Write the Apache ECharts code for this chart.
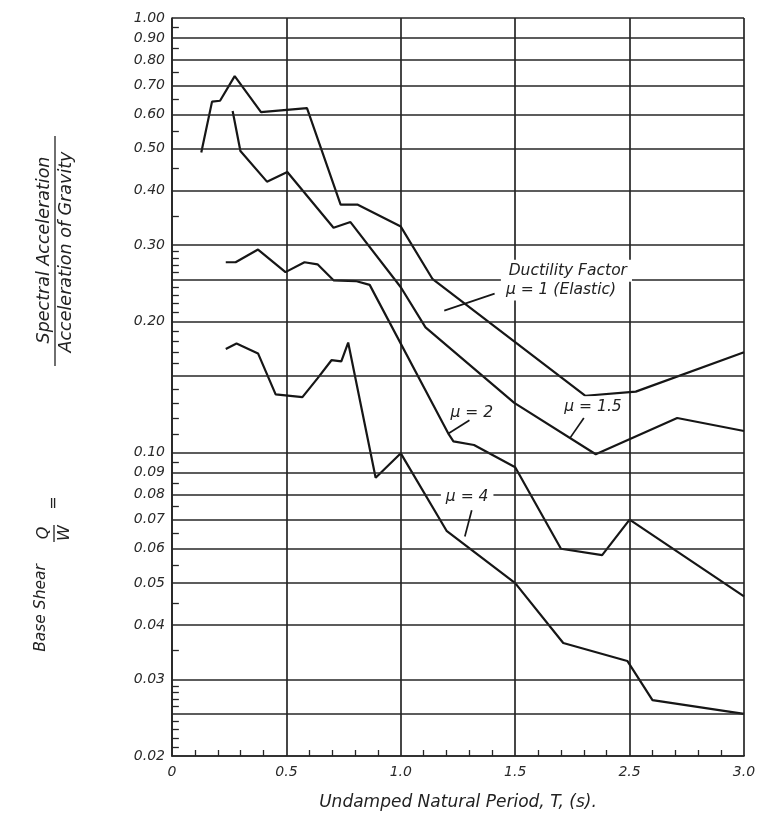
<!DOCTYPE html>
<html><head><meta charset="utf-8">
<script src="https://cdn.jsdelivr.net/npm/echarts@6/dist/echarts.min.js"></script>
<style>html,body{margin:0;padding:0;background:#fff}#c{width:759px;height:821px}</style>
</head><body><div id="c"></div>
<script>
// ---- data ----
const xTickLabels = ['0', '0.5', '1.0', '1.5', '2.5', '3.0'];
const yLabelValues = [0.02, 0.03, 0.04, 0.05, 0.06, 0.07, 0.08, 0.09, 0.10, 0.20, 0.30, 0.40, 0.50, 0.60, 0.70, 0.80, 0.90, 1.00];
const yGridValues = [0.02, 0.025, 0.03, 0.04, 0.05, 0.06, 0.07, 0.08, 0.09, 0.10, 0.15, 0.20, 0.25, 0.30, 0.40, 0.50, 0.60, 0.70, 0.80, 0.90, 1.00];
const yMinorTicks = [0.021, 0.022, 0.023, 0.024, 0.026, 0.027, 0.028, 0.029, 0.035, 0.045, 0.055, 0.065, 0.075, 0.085, 0.095,
  0.11, 0.12, 0.13, 0.14, 0.16, 0.17, 0.18, 0.19, 0.21, 0.22, 0.23, 0.24, 0.26, 0.27, 0.28, 0.29, 0.35, 0.45, 0.55, 0.65, 0.75, 0.85, 0.95];

const mu1 = [[0.128, 0.49], [0.175, 0.642], [0.21, 0.645], [0.274, 0.735], [0.389, 0.607], [0.59, 0.62],
  [0.737, 0.372], [0.81, 0.372], [1.0, 0.331], [1.138, 0.251], [1.807, 0.135], [2.027, 0.138], [2.5, 0.17]];
const mu15 = [[0.265, 0.611], [0.299, 0.494], [0.415, 0.42], [0.504, 0.442], [0.706, 0.329], [0.78, 0.339],
  [1.0, 0.240], [1.108, 0.194], [1.496, 0.130], [1.852, 0.099], [2.208, 0.120], [2.5, 0.112]];
const mu2 = [[0.235, 0.274], [0.278, 0.274], [0.376, 0.293], [0.496, 0.260], [0.579, 0.274], [0.636, 0.271],
  [0.706, 0.249], [0.803, 0.248], [0.864, 0.243], [1.21, 0.110], [1.23, 0.106], [1.32, 0.104], [1.5, 0.0924],
  [1.70, 0.060], [1.88, 0.058], [2.0, 0.070], [2.5, 0.0466]];
const mu4 = [[0.235, 0.173], [0.282, 0.178], [0.376, 0.169], [0.453, 0.136], [0.57, 0.134], [0.636, 0.148],
  [0.697, 0.163], [0.74, 0.162], [0.77, 0.179], [0.89, 0.0874], [1.0, 0.0995], [1.2, 0.066], [1.5, 0.050],
  [1.71, 0.0364], [1.99, 0.0331], [2.1, 0.0269], [2.5, 0.025]];

const noteTexts = ['Ductility Factor', 'μ = 1 (Elastic)', 'μ = 2', 'μ = 1.5', 'μ = 4'];
const noteAnchors = [[1.73, 0.262], [1.70, 0.237], [1.31, 0.123], [1.84, 0.127], [1.29, 0.0791]];
const pointerLines = [
  [[1.41, 0.232], [1.19, 0.212]],
  [[1.30, 0.1186], [1.21, 0.1107]],
  [[1.80, 0.120], [1.74, 0.108]],
  [[1.31, 0.0736], [1.28, 0.0640]]
];

// ---- chart ----
const INK = '#161616';
const GRID = '#262626';
const FONT = 'DejaVu Sans';
const chart = echarts.init(document.getElementById('c'), null, { renderer: 'canvas' });

const gridMark = yGridValues.map(v => ({
  yAxis: v,
  label: { show: yLabelValues.indexOf(v) >= 0, formatter: v.toFixed(2) }
}));
const tickMark = yMinorTicks.map(v => [
  { coord: [0, v], lineStyle: { width: 1.3 }, label: { show: false } },
  { coord: [0.03, v] }
]);

function curve(name, data) {
  return {
    name, type: 'line', data, symbol: 'none', silent: true, animation: false,
    lineStyle: { color: INK, width: 2.2 }, z: 3
  };
}

const s1 = curve('μ = 1', mu1);
s1.markLine = {
  silent: true, animation: false, symbol: 'none', precision: 4,
  lineStyle: { color: GRID, width: 1.7, type: 'solid' },
  label: {
    position: 'start', distance: 7, color: '#2a2a2a', fontFamily: FONT, fontStyle: 'italic', fontSize: 14
  },
  emphasis: { disabled: true },
  data: gridMark.concat(tickMark)
};

const option = {
  backgroundColor: '#fff',
  animation: false,
  grid: { left: 172, top: 18, width: 572, height: 738 },
  xAxis: {
    type: 'value', min: 0, max: 2.5, interval: 0.5,
    name: 'Undamped Natural Period, T, (s).', nameLocation: 'middle', nameGap: 38,
    nameTextStyle: { fontFamily: FONT, fontStyle: 'italic', fontSize: 17, color: '#222' },
    axisLine: { show: true, lineStyle: { color: GRID, width: 1.7 } },
    axisTick: { show: true, inside: true, length: 1, lineStyle: { color: GRID } },
    minorTick: { show: true, splitNumber: 5, length: 6, lineStyle: { color: GRID, width: 1.3 } },
    axisLabel: {
      margin: 9, color: '#2a2a2a', fontFamily: FONT, fontStyle: 'italic', fontSize: 14,
      formatter: v => xTickLabels[Math.round(v / 0.5)]
    },
    splitLine: { show: true, lineStyle: { color: GRID, width: 1.7 } }
  },
  yAxis: {
    type: 'log', logBase: 10, min: 0.02, max: 1,
    axisLine: { show: true, lineStyle: { color: GRID, width: 1.7 } },
    axisTick: { show: false }, axisLabel: { show: false }, splitLine: { show: false }
  },
  series: [s1, curve('μ = 1.5', mu15), curve('μ = 2', mu2), curve('μ = 4', mu4)]
};
chart.setOption(option);

// ---- annotations (placed through the chart's own coordinate system) ----
const P = c => chart.convertToPixel({ gridIndex: 0 }, c);
const txtStyle = (text, p, size) => ({
  text, x: p[0], y: p[1], align: 'center', verticalAlign: 'middle',
  font: 'italic ' + size + 'px "' + FONT + '"', fill: '#222',
  backgroundColor: '#fff', padding: [3, 5]
});
const elements = [];
noteTexts.forEach((t, i) => {
  elements.push({ type: 'text', z: 100, silent: true, style: txtStyle(t, P(noteAnchors[i]), 15.5) });
});
pointerLines.forEach(l => {
  const a = P(l[0]), b = P(l[1]);
  elements.push({ type: 'line', z: 101, silent: true, shape: { x1: a[0], y1: a[1], x2: b[0], y2: b[1] },
    style: { stroke: INK, lineWidth: 1.7 } });
});

// y axis title (rotated)
const rot = Math.PI / 2;
function rtext(text, x, y, size) {
  return { type: 'text', z: 100, silent: true, x, y, rotation: rot,
    style: { text, x: 0, y: 0, align: 'center', verticalAlign: 'middle',
      font: 'italic ' + size + 'px "' + FONT + '"', fill: '#222' } };
}
elements.push(rtext('Base Shear', 41, 608, 15.5));
elements.push(rtext('Q', 44, 533, 16));
elements.push(rtext('W', 65, 533, 16));
elements.push({ type: 'line', z: 100, silent: true, shape: { x1: 54, y1: 525, x2: 54, y2: 542 }, style: { stroke: '#222', lineWidth: 1.3 } });
elements.push(rtext('=', 54, 503, 16));
elements.push(rtext('Spectral Acceleration', 44, 250, 17.5));
elements.push(rtext('Acceleration of Gravity', 66, 252, 17.5));
elements.push({ type: 'line', z: 100, silent: true, shape: { x1: 55, y1: 136, x2: 55, y2: 366 }, style: { stroke: '#222', lineWidth: 1.3 } });

chart.setOption({ graphic: { elements } });
</script>
</body></html>
